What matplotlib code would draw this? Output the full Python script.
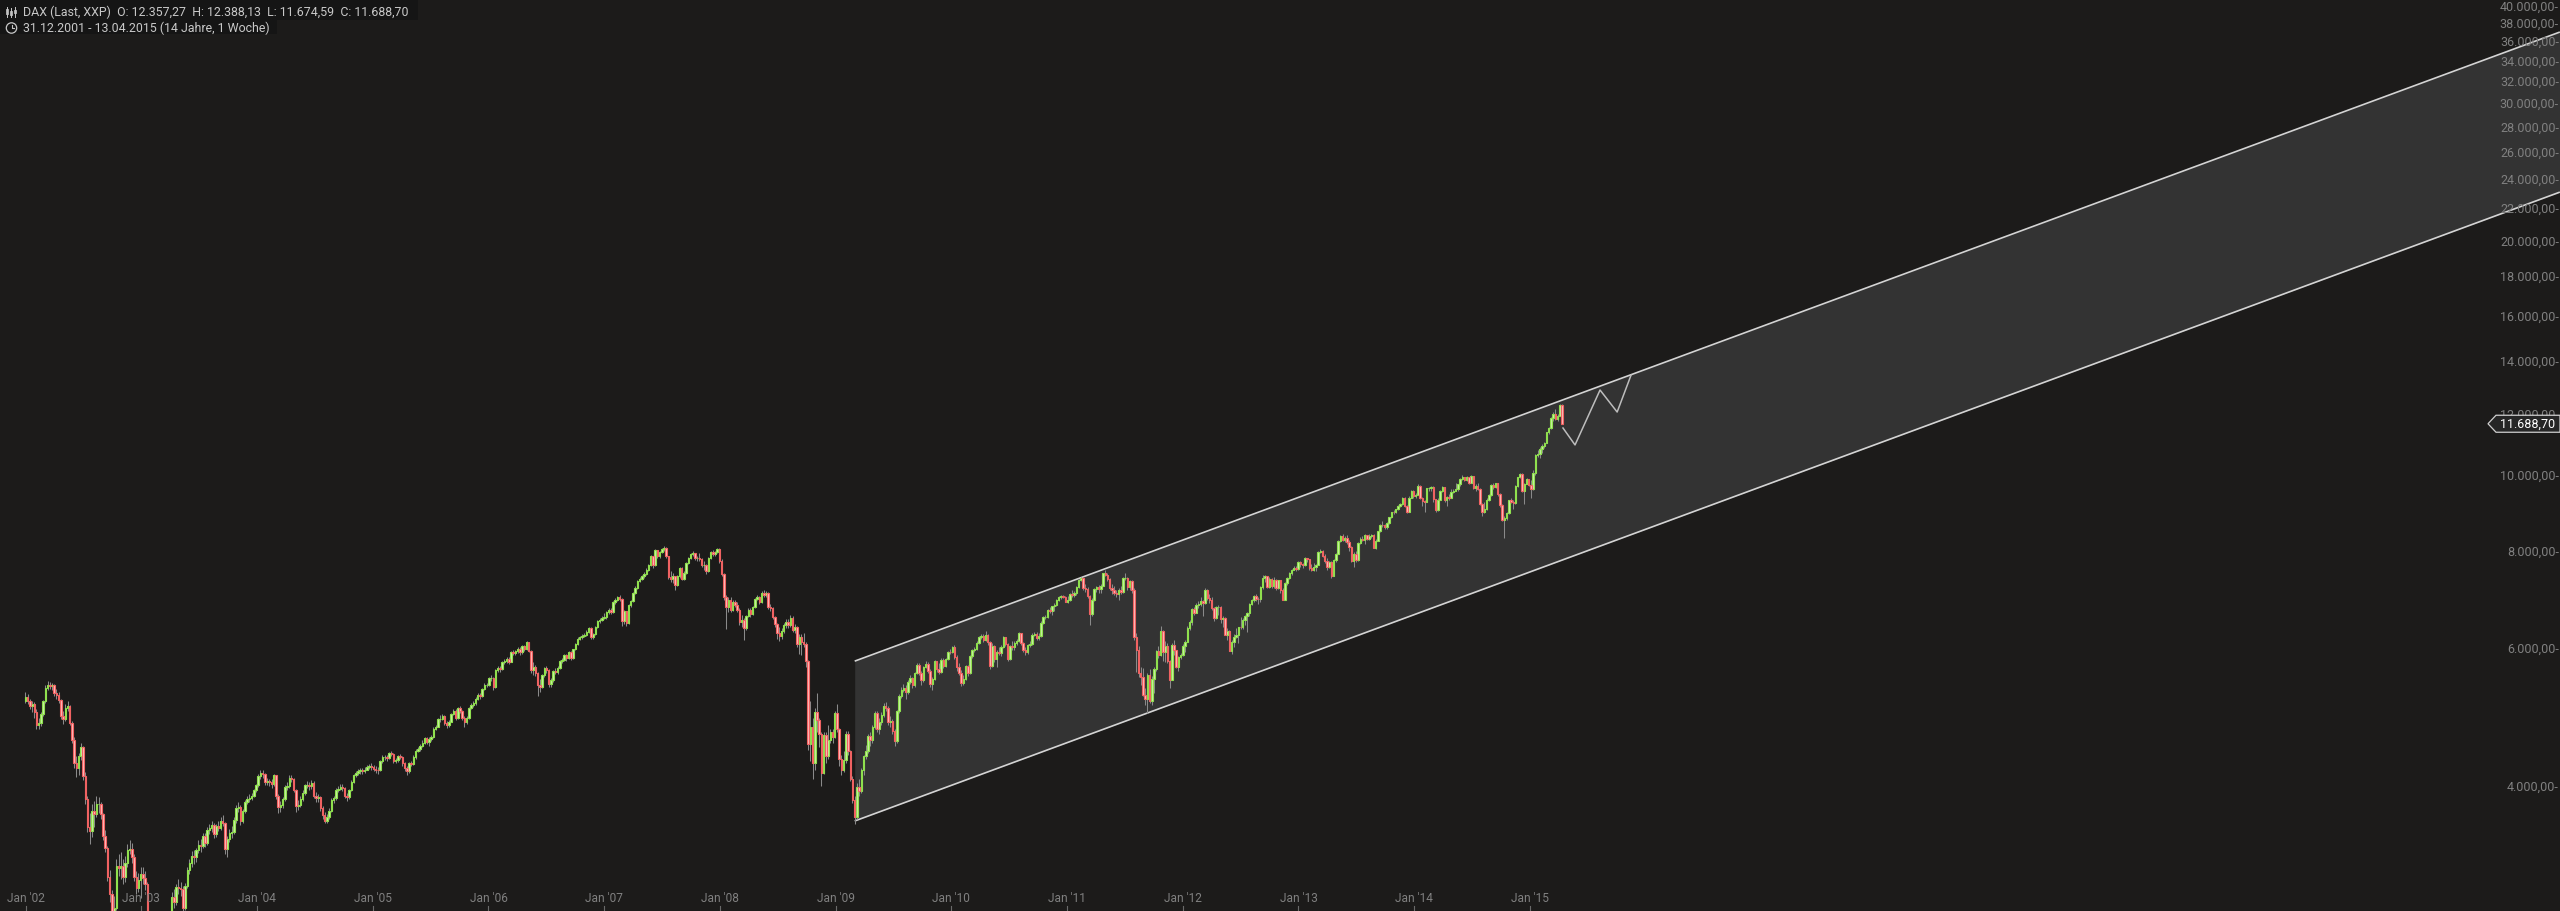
import numpy as np
import pandas as pd
import matplotlib
matplotlib.use("Agg")
import matplotlib.pyplot as plt
import matplotlib.dates as mdates
from matplotlib.transforms import blended_transform_factory
from matplotlib.patches import Polygon, Rectangle, Circle

plt.rcParams['font.family'] = ['Roboto', 'DejaVu Sans']

W, H, DPI = 2560, 911, 100

# ---------------- data (weekly DAX candles) ----------------
week_start = "2001-12-31"
first_open = 5160

weekly_close = [
    # 2002
    5220, 5150, 5080, 5110, 4990, 4800, 4830, 4960, 5150, 5360, 5400, 5390, 5398, 5280, 5250, 5170, 4930, 4890, 5050, 5080, 4830, 4600, 4290, 4230, 4380, 4500, 4130, 3860, 3550, 3510, 3730, 3690, 3800, 3800, 3690, 3465, 3345, 3070, 2920, 2650, 2800, 3170, 3150, 3170, 3070, 3195, 3320, 3330, 3250, 3070, 2970, 3040,
    # 2003
    3090, 3060, 3000, 2740, 2700, 2640, 2590, 2660, 2547, 2450, 2300, 2620, 2520, 2600, 2890, 2850, 2980, 2970, 2960, 2800, 2990, 3130, 3195, 3260, 3250, 3320, 3370, 3365, 3460, 3390, 3525, 3540, 3580, 3480, 3570, 3540, 3620, 3600, 3335, 3430, 3490, 3500, 3630, 3760, 3770, 3620, 3730, 3830, 3860, 3870, 3900, 3965,
    # 2004
    4020, 4130, 4170, 4160, 4065, 4070, 4060, 4030, 4140, 3890, 3770, 3790, 3856, 4000, 4010, 4110, 4100, 3970, 3780, 3790, 3860, 3930, 4020, 4025, 4010, 4052, 3900, 3870, 3880, 3760, 3680, 3620, 3660, 3730, 3850, 3870, 3970, 3980, 4000, 3990, 3900, 3880, 3960, 4065, 4140, 4170, 4190, 4200, 4190, 4210, 4240, 4256,
    # 2005
    4240, 4220, 4210, 4200, 4320, 4370, 4370, 4360, 4420, 4410, 4320, 4330, 4380, 4370, 4290, 4230, 4190, 4290, 4280, 4370, 4450, 4470, 4520, 4560, 4620, 4570, 4610, 4630, 4750, 4780, 4890, 4890, 4930, 4830, 4800, 4850, 4960, 5010, 4900, 5044, 5000, 4900, 4840, 4900, 5050, 5100, 5120, 5190, 5250, 5230, 5340, 5400, 5408,
    # 2006
    5520, 5520, 5380, 5650, 5680, 5670, 5780, 5810, 5840, 5790, 5950, 5940, 5970, 6020, 5950, 6060, 6010, 6130, 5980, 5650, 5700, 5600, 5400, 5380, 5560, 5683, 5650, 5420, 5480, 5630, 5620, 5680, 5800, 5820, 5900, 5850, 5960, 5850, 6004, 6100, 6200, 6220, 6250, 6270, 6330, 6400, 6230, 6280, 6420, 6530, 6550, 6597,
    # 2007
    6600, 6700, 6750, 6700, 6900, 6950, 7000, 6970, 6520, 6720, 6490, 6840, 6917, 7100, 7200, 7350, 7400, 7450, 7500, 7600, 7700, 7900, 7700, 8050, 7900, 8007, 8080, 8100, 7900, 7440, 7400, 7450, 7270, 7450, 7640, 7400, 7530, 7750, 7862, 7950, 7980, 7860, 7870, 7850, 7700, 7700, 7560, 7870, 8000, 7950, 8000, 8067,
    # 2008
    7800, 7500, 7000, 6800, 6950, 6750, 6900, 6850, 6748, 6510, 6550, 6390, 6620, 6750, 6660, 6800, 6970, 7010, 6900, 7100, 7050, 7097, 6800, 6780, 6600, 6470, 6300, 6250, 6340, 6450, 6510, 6450, 6590, 6350, 6422, 6100, 6230, 6130, 6100, 5797, 4544, 4782, 4295, 4988, 4880, 4680, 4170, 4669, 4380, 4600, 4700, 4630,
    # 2009
    4973, 4750, 4340, 4200, 4338, 4680, 4450, 4100, 3844, 3666, 4000, 3950, 4200, 4380, 4450, 4650, 4600, 4770, 4980, 4740, 4850, 4941, 5080, 5050, 4840, 4860, 4720, 4580, 5000, 5230, 5332, 5350, 5300, 5460, 5520, 5400, 5600, 5730, 5600, 5480, 5700, 5750, 5640, 5415, 5500, 5800, 5660, 5620, 5820, 5710, 5830, 5960,
    # 2010
    5957, 6040, 5870, 5700, 5608, 5430, 5500, 5720, 5598, 5880, 5990, 6020, 6120, 6235, 6250, 6180, 6260, 6136, 5720, 6060, 5830, 5950, 5940, 6050, 6220, 6100, 5830, 6060, 6040, 6110, 6148, 6300, 6110, 6000, 5950, 6080, 6100, 6270, 6290, 6210, 6250, 6500, 6600, 6601, 6750, 6720, 6820, 6850, 6950, 7000, 7020, 7010, 6914,
    # 2011
    6950, 7080, 7060, 7100, 7220, 7370, 7420, 7190, 7180, 7040, 6660, 6950, 7180, 7220, 7180, 7250, 7514, 7490, 7400, 7200, 7160, 7090, 7070, 7160, 7120, 7420, 7420, 7220, 7340, 7160, 6236, 5997, 5603, 5537, 5250, 5190, 5574, 5160, 5502, 5675, 5970, 5910, 6346, 5966, 6057, 5800, 5493, 6080, 5986, 5702, 5878, 5898,
    # 2012
    6057, 6143, 6404, 6511, 6766, 6692, 6849, 6864, 6921, 6880, 7157, 6996, 6947, 6775, 6583, 6801, 6801, 6562, 6579, 6271, 6339, 5978, 6130, 6230, 6264, 6416, 6410, 6558, 6630, 6689, 6865, 6945, 7040, 6972, 6970, 7214, 7412, 7451, 7216, 7398, 7232, 7380, 7204, 7363, 7163, 6950, 7309, 7405, 7518, 7585, 7636, 7612,
    # 2013
    7776, 7715, 7700, 7860, 7830, 7630, 7590, 7660, 7710, 8000, 8040, 7910, 7795, 7660, 7770, 7460, 7810, 7960, 8280, 8400, 8300, 8350, 8250, 8130, 7790, 7960, 7810, 8210, 8330, 8300, 8410, 8330, 8390, 8420, 8100, 8270, 8510, 8680, 8660, 8620, 8720, 8870, 9010, 9000, 9080, 9170, 9220, 9400, 9170, 9010, 9400, 9590,
    # 2014
    9435, 9470, 9740, 9390, 9306, 9290, 9660, 9660, 9690, 9350, 9060, 9340, 9590, 9700, 9320, 9410, 9400, 9560, 9580, 9630, 9770, 9940, 9990, 9910, 9990, 9820, 10010, 9670, 9720, 9640, 9210, 9010, 9090, 9340, 9470, 9750, 9690, 9800, 9490, 9200, 8790, 8850, 8990, 9330, 9290, 9250, 9730, 9980, 10090, 9590, 9790, 9920,
    # 2015
    9764, 9650, 10100, 10650, 10694, 10850, 10960, 11050, 11400, 11550, 11900, 12040, 11870, 11970, 12357, 11688,
]

weekly_high = [
    # 2002
    5300, 5270, 5190, 5150, 5140, 5030, 4900, 4990, 5170, 5400, 5470, 5460, 5440, 5420, 5340, 5290, 5190, 5000, 5110, 5160, 5100, 4860, 4630, 4380, 4420, 4560, 4510, 4180, 3900, 3700, 3800, 3840, 3900, 3880, 3830, 3700, 3520, 3360, 3130, 2950, 2900, 3230, 3280, 3300, 3230, 3260, 3380, 3420, 3390, 3280, 3120, 3100,
    # 2003
    3160, 3160, 3120, 3020, 2770, 2760, 2700, 2720, 2700, 2600, 2480, 2700, 2680, 2700, 2930, 2960, 3000, 3050, 3020, 2990, 3010, 3160, 3230, 3310, 3320, 3340, 3420, 3430, 3490, 3490, 3550, 3590, 3620, 3600, 3590, 3620, 3660, 3680, 3610, 3460, 3530, 3560, 3660, 3790, 3830, 3790, 3750, 3850, 3900, 3920, 3930, 3980,
    # 2004
    4040, 4160, 4200, 4210, 4170, 4110, 4100, 4090, 4160, 4150, 3920, 3840, 3880, 4020, 4060, 4150, 4150, 4110, 3980, 3850, 3890, 3960, 4040, 4070, 4060, 4080, 4070, 3940, 3920, 3890, 3780, 3710, 3690, 3760, 3870, 3900, 3990, 4010, 4040, 4030, 4000, 3930, 3980, 4080, 4160, 4190, 4220, 4230, 4230, 4240, 4270, 4280,
    # 2005
    4290, 4270, 4250, 4240, 4330, 4390, 4400, 4400, 4440, 4450, 4420, 4360, 4400, 4410, 4380, 4310, 4260, 4310, 4320, 4390, 4470, 4500, 4540, 4590, 4640, 4640, 4630, 4660, 4770, 4810, 4910, 4940, 4960, 4940, 4860, 4880, 4980, 5040, 5030, 5060, 5080, 5020, 4930, 4930, 5070, 5130, 5150, 5210, 5280, 5280, 5360, 5430, 5440,
    # 2006
    5540, 5560, 5540, 5670, 5710, 5720, 5800, 5840, 5870, 5870, 5970, 5990, 6000, 6050, 6040, 6080, 6090, 6160, 6140, 5990, 5780, 5740, 5620, 5500, 5580, 5700, 5720, 5660, 5520, 5650, 5680, 5710, 5820, 5850, 5920, 5930, 5980, 5970, 6020, 6120, 6220, 6250, 6280, 6310, 6350, 6420, 6410, 6310, 6440, 6550, 6580, 6620,
    # 2007
    6680, 6720, 6780, 6790, 6920, 6980, 7040, 7050, 6980, 6750, 6730, 6860, 6950, 7120, 7230, 7370, 7440, 7480, 7540, 7630, 7730, 7930, 7920, 8080, 8060, 8030, 8110, 8150, 8120, 7910, 7560, 7520, 7460, 7480, 7660, 7650, 7560, 7770, 7880, 7980, 8020, 7990, 7920, 7980, 7870, 7800, 7720, 7890, 8030, 8050, 8030, 8100,
    # 2008
    8100, 7830, 7520, 7050, 7000, 7000, 6950, 6950, 6900, 6780, 6640, 6580, 6650, 6780, 6790, 6830, 6990, 7060, 7040, 7130, 7150, 7130, 7110, 6870, 6800, 6620, 6500, 6420, 6400, 6500, 6560, 6560, 6640, 6620, 6470, 6440, 6280, 6290, 6300, 6130, 5820, 5150, 4900, 5050, 5280, 4900, 4700, 4700, 4700, 4800, 4750, 4750,
    # 2009
    5000, 5110, 4760, 4400, 4450, 4720, 4720, 4460, 4130, 3900, 4050, 4100, 4230, 4400, 4530, 4680, 4700, 4800, 5010, 5000, 4900, 4990, 5120, 5140, 5080, 4930, 4890, 4750, 5020, 5260, 5370, 5420, 5400, 5480, 5560, 5540, 5620, 5760, 5760, 5640, 5720, 5810, 5780, 5660, 5540, 5820, 5810, 5770, 5850, 5850, 5860, 5980,
    # 2010
    6010, 6060, 6080, 5900, 5770, 5650, 5560, 5740, 5740, 5900, 6010, 6050, 6150, 6250, 6290, 6290, 6340, 6290, 6160, 6110, 6080, 5990, 6050, 6080, 6250, 6230, 6120, 6080, 6160, 6150, 6190, 6330, 6310, 6140, 6040, 6100, 6150, 6300, 6330, 6320, 6300, 6520, 6620, 6650, 6760, 6800, 6830, 6880, 6970, 7040, 7060, 7060, 7030,
    # 2011
    7020, 7100, 7150, 7140, 7240, 7390, 7440, 7430, 7280, 7210, 7060, 6990, 7200, 7250, 7260, 7280, 7530, 7600, 7530, 7420, 7280, 7240, 7150, 7190, 7240, 7440, 7530, 7430, 7360, 7380, 7200, 6300, 6060, 5700, 5690, 5360, 5600, 5660, 5550, 5700, 6000, 6070, 6430, 6350, 6150, 6120, 5820, 6120, 6180, 6000, 5890, 5940,
    # 2012
    6100, 6180, 6430, 6550, 6790, 6800, 6880, 6930, 7010, 6950, 7190, 7170, 7080, 7010, 6800, 6820, 6850, 6820, 6620, 6600, 6400, 6350, 6180, 6290, 6400, 6420, 6600, 6580, 6640, 6700, 6880, 6970, 7060, 7070, 7010, 7230, 7480, 7480, 7460, 7430, 7420, 7440, 7400, 7370, 7380, 7200, 7330, 7440, 7540, 7620, 7680, 7680,
    # 2013
    7800, 7790, 7760, 7880, 7870, 7840, 7720, 7760, 7730, 8020, 8070, 8060, 7950, 7870, 7800, 7800, 7840, 7990, 8300, 8420, 8440, 8400, 8420, 8290, 8140, 8000, 8020, 8240, 8360, 8380, 8430, 8420, 8440, 8450, 8440, 8310, 8520, 8700, 8770, 8700, 8750, 8880, 9020, 9060, 9100, 9190, 9240, 9420, 9410, 9190, 9430, 9620,
    # 2014
    9620, 9530, 9790, 9760, 9420, 9340, 9680, 9700, 9730, 9720, 9360, 9380, 9600, 9730, 9710, 9450, 9500, 9630, 9630, 9800, 9790, 9960, 10050, 10000, 10030, 10000, 10050, 10020, 9790, 9810, 9660, 9260, 9280, 9380, 9500, 9770, 9800, 9820, 9810, 9520, 9220, 8910, 9020, 9340, 9400, 9330, 9760, 10000, 10100, 10100, 9810, 9950,
    # 2015
    9930, 9890, 10200, 10700, 10810, 10900, 11010, 11080, 11420, 11580, 11920, 12100, 12220, 12030, 12390, 12388,
]

weekly_low = [
    # 2002
    5130, 5110, 5030, 4990, 4900, 4740, 4750, 4790, 4930, 5120, 5320, 5340, 5330, 5240, 5190, 5120, 4890, 4820, 4860, 5000, 4800, 4560, 4230, 4120, 4150, 4330, 4080, 3800, 3500, 3380, 3450, 3550, 3660, 3700, 3640, 3420, 3300, 3030, 2850, 2600, 2520, 2780, 3080, 3050, 3000, 3020, 3160, 3280, 3200, 3030, 2920, 2930,
    # 2003
    2880, 3000, 2950, 2700, 2620, 2580, 2520, 2540, 2500, 2400, 2190, 2280, 2450, 2480, 2580, 2800, 2820, 2920, 2900, 2760, 2780, 2970, 3090, 3160, 3190, 3210, 3290, 3300, 3340, 3350, 3370, 3480, 3500, 3440, 3450, 3510, 3520, 3560, 3280, 3250, 3400, 3440, 3480, 3600, 3720, 3580, 3600, 3700, 3800, 3830, 3850, 3880,
    # 2004
    3940, 4000, 4100, 4110, 4020, 4020, 4010, 3990, 4010, 3860, 3700, 3720, 3760, 3840, 3960, 3990, 4060, 3940, 3720, 3740, 3770, 3840, 3910, 3990, 3970, 3980, 3870, 3830, 3830, 3730, 3640, 3600, 3600, 3640, 3720, 3820, 3850, 3940, 3960, 3950, 3870, 3840, 3860, 3950, 4050, 4120, 4150, 4160, 4160, 4170, 4200, 4220,
    # 2005
    4210, 4190, 4170, 4160, 4190, 4300, 4330, 4320, 4340, 4380, 4290, 4290, 4310, 4340, 4260, 4190, 4150, 4170, 4250, 4270, 4350, 4430, 4450, 4500, 4540, 4540, 4520, 4580, 4620, 4730, 4770, 4850, 4870, 4800, 4760, 4780, 4840, 4940, 4870, 4890, 4970, 4870, 4780, 4820, 4890, 5030, 5070, 5100, 5170, 5190, 5210, 5320, 5370,
    # 2006
    5390, 5470, 5330, 5360, 5620, 5620, 5650, 5750, 5770, 5750, 5780, 5900, 5900, 5940, 5910, 5930, 5970, 5990, 5950, 5600, 5570, 5550, 5240, 5290, 5350, 5530, 5600, 5370, 5370, 5460, 5580, 5590, 5660, 5770, 5800, 5810, 5830, 5820, 5830, 5990, 6080, 6170, 6190, 6220, 6250, 6310, 6190, 6200, 6260, 6400, 6500, 6530,
    # 2007
    6560, 6570, 6660, 6670, 6690, 6860, 6920, 6930, 6440, 6480, 6440, 6470, 6800, 6900, 7080, 7180, 7320, 7360, 7420, 7480, 7570, 7680, 7640, 7680, 7860, 7860, 7980, 8040, 7860, 7400, 7330, 7300, 7150, 7240, 7420, 7380, 7360, 7500, 7720, 7830, 7910, 7810, 7790, 7800, 7650, 7600, 7500, 7540, 7850, 7910, 7920, 7980,
    # 2008
    7760, 7450, 6950, 6380, 6700, 6700, 6720, 6800, 6700, 6450, 6420, 6180, 6360, 6600, 6610, 6640, 6780, 6940, 6860, 6880, 7000, 7000, 6760, 6720, 6560, 6420, 6200, 6160, 6200, 6300, 6390, 6400, 6420, 6320, 6300, 6050, 5930, 5900, 6050, 5700, 4460, 4320, 4100, 4200, 4700, 4500, 4010, 4160, 4290, 4350, 4550, 4550,
    # 2009
    4620, 4700, 4260, 4140, 4180, 4300, 4400, 4070, 3820, 3590, 3640, 3900, 3930, 4150, 4340, 4420, 4520, 4560, 4750, 4700, 4680, 4800, 4920, 5000, 4800, 4780, 4680, 4520, 4560, 4980, 5200, 5290, 5180, 5270, 5420, 5350, 5380, 5580, 5560, 5400, 5460, 5680, 5600, 5380, 5320, 5480, 5620, 5590, 5600, 5680, 5700, 5820,
    # 2010
    5920, 5940, 5840, 5640, 5560, 5390, 5400, 5480, 5550, 5590, 5860, 5960, 6000, 6100, 6200, 6130, 6150, 6080, 5670, 5700, 5780, 5700, 5900, 5880, 6030, 6060, 5810, 5820, 6000, 5990, 6090, 6130, 6080, 5960, 5900, 5920, 6040, 6080, 6240, 6180, 6170, 6230, 6470, 6560, 6580, 6680, 6650, 6720, 6830, 6930, 6970, 6980, 6900,
    # 2011
    6880, 6920, 7010, 7000, 7060, 7200, 7340, 7150, 7120, 6990, 6460, 6620, 6930, 7120, 7100, 7100, 7230, 7450, 7350, 7160, 7080, 7060, 7000, 6950, 7080, 7100, 7380, 7160, 7150, 7100, 6180, 5610, 5540, 5400, 5240, 5100, 4970, 5120, 5100, 5280, 5640, 5860, 5880, 5800, 5790, 5770, 5360, 5480, 5900, 5690, 5640, 5830,
    # 2012
    5880, 5960, 6130, 6360, 6450, 6640, 6680, 6790, 6830, 6630, 6870, 6950, 6880, 6750, 6520, 6560, 6640, 6500, 6420, 6260, 6170, 5970, 5920, 6040, 6210, 6120, 6380, 6370, 6460, 6330, 6620, 6840, 6900, 6930, 6870, 6900, 7180, 7320, 7190, 7200, 7200, 7200, 7150, 7180, 7100, 6950, 6940, 7260, 7390, 7490, 7580, 7570,
    # 2013
    7600, 7660, 7640, 7680, 7780, 7600, 7560, 7570, 7570, 7700, 7970, 7880, 7760, 7600, 7640, 7420, 7450, 7780, 7950, 8250, 8280, 8240, 8190, 8020, 7780, 7660, 7780, 7800, 8190, 8260, 8200, 8300, 8300, 8350, 8090, 8080, 8260, 8490, 8630, 8560, 8560, 8700, 8850, 8960, 8970, 9060, 9150, 9200, 9130, 8980, 9000, 9390,
    # 2014
    9400, 9380, 9460, 9360, 9170, 9010, 9280, 9580, 9570, 9280, 9000, 9040, 9320, 9560, 9290, 9160, 9340, 9380, 9520, 9580, 9590, 9740, 9910, 9860, 9880, 9780, 9800, 9630, 9590, 9600, 9190, 8900, 8980, 9060, 9300, 9450, 9650, 9670, 9440, 9150, 8760, 8350, 8800, 8950, 9240, 9100, 9230, 9710, 9950, 9560, 9220, 9770,
    # 2015
    9720, 9380, 9620, 10050, 10600, 10570, 10730, 10880, 11040, 11330, 11500, 11770, 11830, 11800, 11950, 11675,
]

# trend channel drawn on the chart (start at the 2009 low, runs off the right edge)
channel_dates = ["2009-03-02", "2023-11-27"]
channel_upper = [5800, 37150]
channel_lower = [3618, 23160]

# hand-drawn projection zig-zag after the last candle
proj_dates = ["2015-04-16", "2015-05-24", "2015-08-11", "2015-10-04", "2015-11-17"]
proj_values = [11543, 10980, 12913, 12100, 13497]

y_tick_values = [4000, 6000, 8000, 10000, 12000, 14000, 16000, 18000, 20000, 22000,
                 24000, 26000, 28000, 30000, 32000, 34000, 36000, 38000, 40000]
x_tick_years = list(range(2002, 2016))

header_line1 = "DAX (Last, XXP)  O: 12.357,27  H: 12.388,13  L: 11.674,59  C: 11.688,70"
header_line2 = "31.12.2001 - 13.04.2015 (14 Jahre, 1 Woche)"
last_close = 11688.70

# ---------------- styles ----------------
BG = "#1c1b1a"
CHANNEL_FILL = "#333333"
CHANNEL_LINE = "#d4d4d4"
UP_EDGE, UP_FACE = "#8fe04e", "#c9f0a6"
DN_EDGE, DN_FACE = "#f06262", "#ffbcbc"
WICK = "#8a8a8a"
AXIS_TXT = "#808080"
HEAD_TXT = "#c8c8c8"


def de_fmt(v):
    s = f"{v:,.2f}"
    return s.replace(",", "X").replace(".", ",").replace("X", ".")


n = len(weekly_close)
assert len(weekly_high) == n and len(weekly_low) == n
closes = np.array(weekly_close, dtype=float)
opens = np.concatenate([[first_open], closes[:-1]])
highs = np.maximum(np.array(weekly_high, dtype=float), np.maximum(opens, closes))
lows = np.minimum(np.array(weekly_low, dtype=float), np.minimum(opens, closes))
dates = pd.date_range(week_start, periods=n, freq="7D")
xs = mdates.date2num(dates)

fig = plt.figure(figsize=(W / DPI, H / DPI), dpi=DPI)
fig.patch.set_facecolor(BG)
ax = fig.add_axes([0, 0, 1, 1])
ax.set_facecolor(BG)
for s in ax.spines.values():
    s.set_visible(False)
ax.set_yscale("log")
ax.set_xticks([])
ax.set_yticks([])
ax.set_yticks([], minor=True)

# axis ranges (pixel calibration of the reference)
px_per_day = 115.7 / 365.25
x_ref = mdates.date2num(pd.Timestamp("2002-01-01"))
xmin = x_ref - 25.7 / px_per_day
xmax = xmin + W / px_per_day
ax.set_xlim(xmin, xmax)
ax.set_ylim(10 ** (4.60206 - 904 / 780), 10 ** (4.60206 + 7 / 780))

# channel
cx = mdates.date2num(pd.to_datetime(channel_dates))
ax.fill_between(cx, channel_lower, channel_upper, color=CHANNEL_FILL, lw=0, zorder=1)
ax.plot(cx, channel_upper, color=CHANNEL_LINE, lw=1.2, zorder=2, solid_capstyle="butt")
ax.plot(cx, channel_lower, color=CHANNEL_LINE, lw=1.2, zorder=2, solid_capstyle="butt")

# candles
ax.vlines(xs, lows, highs, colors=WICK, linewidth=0.75, zorder=3)
up = closes >= opens
bottoms = np.minimum(opens, closes)
heights = np.abs(closes - opens)
ax.bar(xs[up], heights[up], bottom=bottoms[up], width=4.6, color=UP_FACE,
       edgecolor=UP_EDGE, linewidth=0.8, zorder=4, align="center")
ax.bar(xs[~up], heights[~up], bottom=bottoms[~up], width=4.6, color=DN_FACE,
       edgecolor=DN_EDGE, linewidth=0.8, zorder=4, align="center")

# projection
px_ = mdates.date2num(pd.to_datetime(proj_dates))
ax.plot(px_, proj_values, color="#bdbdbd", lw=1.1, zorder=5)

# y labels (inside, right)
ty = blended_transform_factory(ax.transAxes, ax.transData)
for v in y_tick_values:
    ax.text(1 - 1.0 / W, v, de_fmt(v) + "-", transform=ty, ha="right", va="center",
            color=AXIS_TXT, fontsize=9.0, zorder=6)

# x labels (inside, bottom)
tx = blended_transform_factory(ax.transData, ax.transAxes)
for yr in x_tick_years:
    d = mdates.date2num(pd.Timestamp(f"{yr}-01-01"))
    ax.text(d, 12.5 / H, f"Jan '{yr % 100:02d}", transform=tx, ha="center", va="center",
            color=AXIS_TXT, fontsize=8.6, zorder=6)
    ax.plot([d, d], [0, 5 / H], transform=tx, color="#6a6a6a", lw=0.8, zorder=6)

# overlay in pixel coordinates for header and price tag
ov = fig.add_axes([0, 0, 1, 1])
ov.set_xlim(0, W)
ov.set_ylim(H, 0)
ov.axis("off")
ov.patch.set_alpha(0)

ov.add_patch(Rectangle((0, 0), 418, 20, facecolor="#151515", edgecolor="none"))
ov.add_patch(Rectangle((0, 20), 277, 14, facecolor="#151515", edgecolor="none"))
ov.text(23, 12, header_line1, color=HEAD_TXT, fontsize=8.9, ha="left", va="center")
ov.text(23, 28, header_line2, color=HEAD_TXT, fontsize=8.9, ha="left", va="center")
# candle icon
for ix, (t, b, bt, bb) in zip([7, 11, 15], [(7, 17, 9, 14), (8, 17, 11, 15), (7, 17, 10, 13)]):
    ov.plot([ix, ix], [t, b], color=HEAD_TXT, lw=0.7)
    ov.add_patch(Rectangle((ix - 1.3, bt), 2.6, bb - bt, facecolor="none", edgecolor=HEAD_TXT, lw=0.6))
# clock icon
ov.add_patch(Circle((11.5, 28), 5.2, facecolor="none", edgecolor=HEAD_TXT, lw=0.9))
ov.plot([11.5, 11.5, 14], [24.5, 28, 28], color=HEAD_TXT, lw=0.8)

# last price tag
yv = ax.transData.transform((xmin, last_close))[1]
ytag = H - yv
tag = Polygon([(2488, ytag), (2496, ytag - 8.5), (2560, ytag - 8.5), (2560, ytag + 8.5),
               (2496, ytag + 8.5)], closed=True, facecolor="#262626", edgecolor="#cfcfcf", lw=0.9)
ov.add_patch(tag)
ov.text(2555, ytag + 0.5, de_fmt(last_close), color="#ffffff", fontsize=9.0, ha="right", va="center")

fig.savefig("out.png", dpi=DPI, facecolor=BG)
